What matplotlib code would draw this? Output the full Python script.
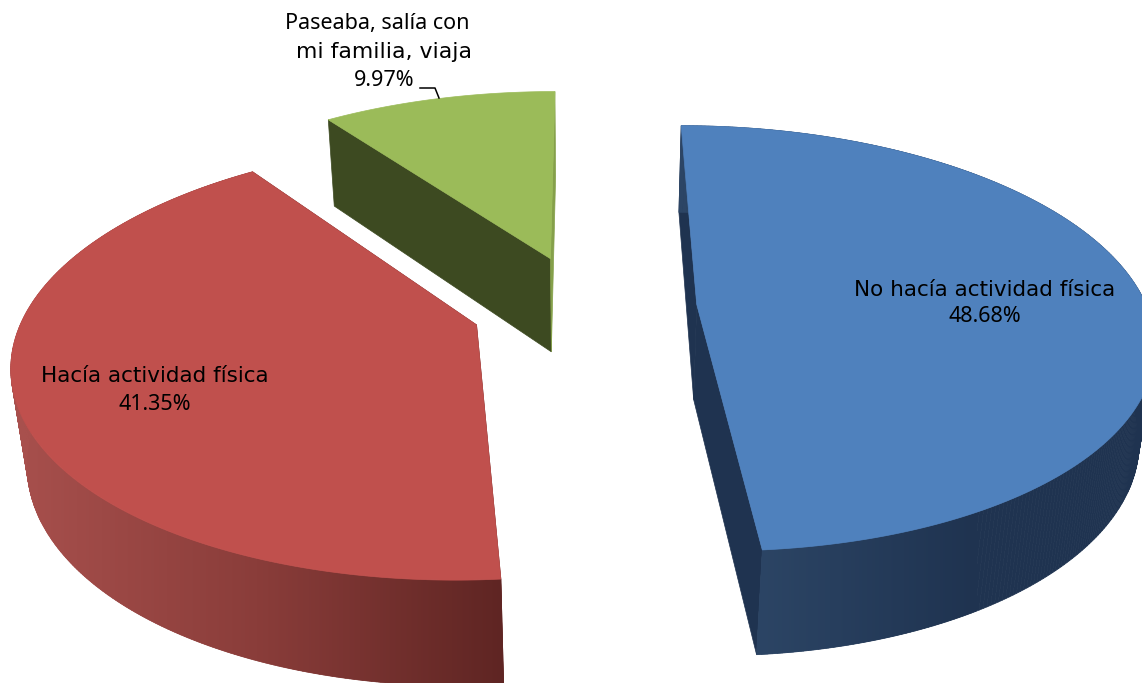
import numpy as np
import matplotlib
matplotlib.use("Agg")
import matplotlib.pyplot as plt
from matplotlib.colors import LinearSegmentedColormap
from matplotlib.patches import Polygon

labels = ["No hacía actividad física", "Hacía actividad física", "Paseaba, salía con\nmi familia, viaja"]
values = [48.68, 41.35, 9.97]
value_labels = ["48.68%", "41.35%", "9.97%"]
top_colors = ["#4F81BD", "#C0504D", "#9BBB59"]
wall_stops = [["#2C4565", "#1F3350"], ["#A8504D", "#8A3D3A", "#5F2523"]]
inner_start = ["#1F3350", "#632523", "#3D4A21"]
inner_end = ["#1F3350", "#632523", "#85A04A"]

X0, Y0 = 584, 306.5
R, EXPLODE = 450, 113
TILT, K, DEPTH, M = 0.462, 0.16, 98, 0.028


def project(theta, r, ex, ey, z):
    wx = ex + r * np.sin(theta)
    wy = ey + r * np.cos(theta)
    s = 1 / (1 + K * wy / R - M * z)
    return X0 + wx * s, Y0 - (TILT * wy + DEPTH * z) * s


fig = plt.figure(figsize=(11.42, 6.83), dpi=100)
ax = fig.add_axes([0, 0, 1, 1])
ax.axis("off")

angles = np.radians(np.cumsum([0] + values) * 3.6)
for i in [2, 1, 0]:
    t0, t1 = angles[i], angles[i + 1]
    mid = (t0 + t1) / 2
    ex, ey = EXPLODE * np.sin(mid), EXPLODE * np.cos(mid)
    th = np.linspace(t0, t1, 300)
    rim_top = np.column_stack(project(th, R, ex, ey, 0))
    rim_bot = np.column_stack(project(th, R, ex, ey, -1))
    apex_top = np.array(project(0, 0, ex, ey, 0))
    apex_bot = np.array(project(0, 0, ex, ey, -1))
    z = 1 + (2 - i) * 0.1
    # flat walls along the two cut edges
    for p_top, p_bot, col in ((rim_top[0], rim_bot[0], inner_start[i]),
                              (rim_top[-1], rim_bot[-1], inner_end[i])):
        ax.add_patch(Polygon([apex_top, p_top, p_bot, apex_bot], closed=True, fc=col, ec=col, lw=0.5, zorder=z))
    # outer wall: swept quads for the silhouette, smooth gradient over them
    if i != 2:
        outline = np.vstack([rim_top, rim_bot[::-1]])
        x_lo, x_hi = outline[:, 0].min(), outline[:, 0].max()
        y_lo, y_hi = outline[:, 1].min(), outline[:, 1].max()
        cmap = LinearSegmentedColormap.from_list(f"wall{i}", wall_stops[i])
        if i == 0:
            start = project(t1, R, ex, ey, -1)[0]
            x_end = start + 220
        else:
            start, x_end = x_lo, x_hi
        for j in range(len(th) - 1):
            frac = np.clip((rim_top[j, 0] - start) / (x_end - start), 0, 1)
            col = cmap(frac)
            ax.add_patch(Polygon([rim_top[j], rim_top[j + 1], rim_bot[j + 1], rim_bot[j]], closed=True,
                                 fc=col, ec=col, lw=0.5, zorder=z + 0.01))
        clip = Polygon(outline, closed=True, fc="none", ec="none", transform=ax.transData)
        ax.add_patch(clip)
        grad = np.linspace(0, 1, 256).reshape(1, -1)
        im = ax.imshow(grad, cmap=cmap, aspect="auto", extent=(start, x_end, y_hi, y_lo),
                       interpolation="bilinear", zorder=z + 0.02)
        im.set_clip_path(clip)
    ax.add_patch(Polygon(np.vstack([apex_top, rim_top]), closed=True, fc=top_colors[i], ec=top_colors[i], lw=0.5,
                         zorder=z + 0.03))

ax.set_xlim(0, 1142)
ax.set_ylim(683, 0)


def put(x, y, s, size=15.5, family="DejaVu Sans"):
    ax.text(x, y, s, family=family, fontsize=size, color="black", ha="center", va="center", zorder=5)


put(985, 290, labels[0])
put(985, 317, value_labels[0], family="Noto Sans")
put(155, 376, labels[1])
put(155, 404, value_labels[1], family="Noto Sans")
line1, line2 = labels[2].split("\n")
put(377, 24, line1, family="Noto Sans")
put(384, 52, line2, size=15.8)
put(384, 80, value_labels[2], family="Noto Sans")
ax.plot([420, 435, 439], [88, 88, 98], color="black", lw=1.1, zorder=5)

fig.savefig("out.png", dpi=100)
